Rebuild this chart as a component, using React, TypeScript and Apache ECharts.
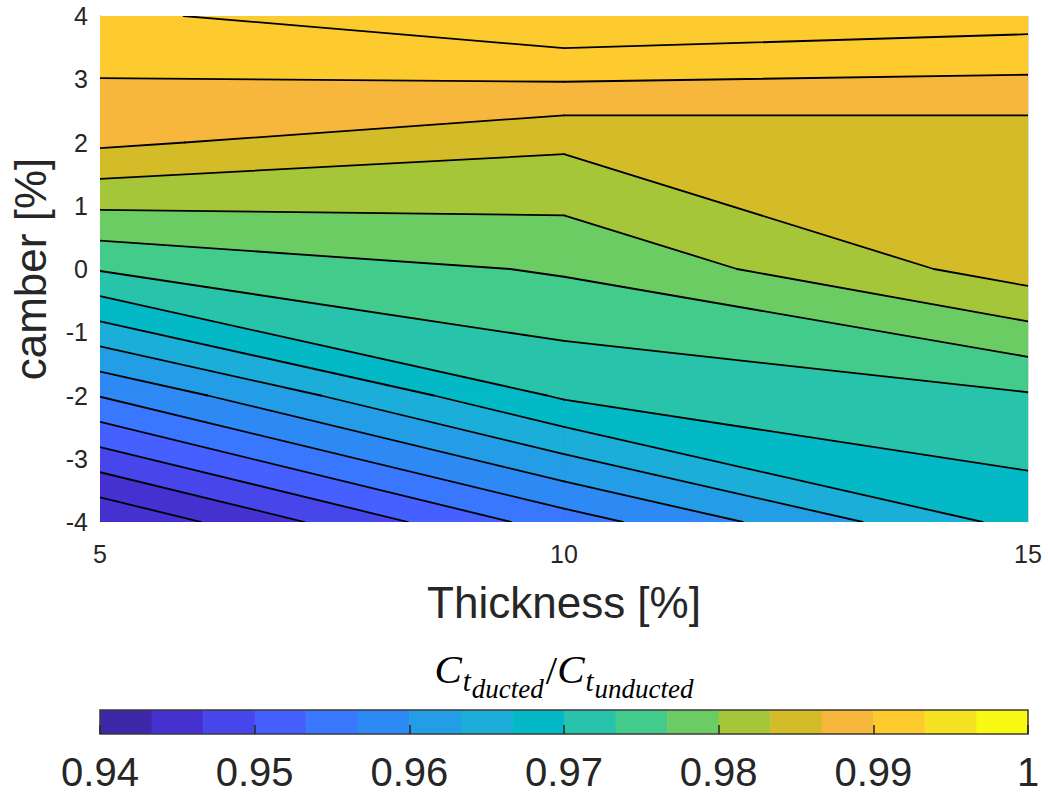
import React, { useEffect, useRef } from "react";
import * as echarts from "echarts";

// Grid of the sweep: airfoil thickness [%] and camber [%]
const thickness = [5, 10, 15];
const camber = [-4, -2, 0, 2, 4];

// Ct(ducted) / Ct(unducted) at each thickness, listed along camber
const ratioT5 = [0.94007, 0.95683, 0.9736, 0.98727, 0.99263];
const ratioT10 = [0.95503, 0.9705, 0.97707, 0.98397, 0.99653];
const ratioT15 = [0.96793, 0.97303, 0.98493, 0.98443, 0.99483];

// Contour levels drawn as black lines
const contourLevels = [
  0.943333, 0.946667, 0.95, 0.953333, 0.956667, 0.96, 0.963333, 0.966667,
  0.97, 0.973333, 0.976667, 0.98, 0.983333, 0.986667, 0.99, 0.993333,
];

// 18-step parula colormap spanning the colour limits
const parula18 = [
  "#3D26A8", "#4431CF", "#4746EB", "#4560FE", "#3877FE", "#2D89F4",
  "#239DE5", "#1AAED9", "#03B9C6", "#27C3AA", "#42CB8B", "#6CCC64",
  "#A6C63A", "#D3BC27", "#F6B73C", "#FECB2F", "#F4E223", "#F9FA14",
];
const colorLimits = [0.94, 1];
const colorbarTicks = [0.94, 0.95, 0.96, 0.97, 0.98, 0.99, 1];

type Pt = [number, number];

const ratioGrid = [ratioT5, ratioT10, ratioT15];

function edgePoint(a: Pt, b: Pt, va: number, vb: number, level: number): Pt {
  const f = (level - va) / (vb - va);
  return [a[0] + f * (b[0] - a[0]), a[1] + f * (b[1] - a[1])];
}

// Marching squares: filled bands and contour segments per grid cell
function buildContours() {
  const bands: { pts: Pt[]; band: number }[] = [];
  const segments: Pt[][] = [];
  const bounds = [-Infinity, ...contourLevels, Infinity];
  for (let i = 0; i < thickness.length - 1; i++) {
    for (let j = 0; j < camber.length - 1; j++) {
      const corners: Pt[] = [
        [thickness[i], camber[j]],
        [thickness[i + 1], camber[j]],
        [thickness[i + 1], camber[j + 1]],
        [thickness[i], camber[j + 1]],
      ];
      const vals = [
        ratioGrid[i][j],
        ratioGrid[i + 1][j],
        ratioGrid[i + 1][j + 1],
        ratioGrid[i][j + 1],
      ];
      for (let b = 0; b < bounds.length - 1; b++) {
        const lo = bounds[b];
        const hi = bounds[b + 1];
        const pts: Pt[] = [];
        for (let e = 0; e < 4; e++) {
          const a = corners[e];
          const c = corners[(e + 1) % 4];
          const va = vals[e];
          const vc = vals[(e + 1) % 4];
          if (va >= lo && va < hi) pts.push(a);
          const hits = [lo, hi]
            .filter((l) => isFinite(l) && (l - va) * (l - vc) < 0)
            .map((l) => ({ f: (l - va) / (vc - va), p: edgePoint(a, c, va, vc, l) }))
            .sort((x, y) => x.f - y.f);
          hits.forEach((h) => pts.push(h.p));
        }
        if (pts.length >= 3) bands.push({ pts, band: b });
      }
      contourLevels.forEach((level) => {
        const hits: Pt[] = [];
        for (let e = 0; e < 4; e++) {
          const va = vals[e];
          const vc = vals[(e + 1) % 4];
          if ((level - va) * (level - vc) < 0) {
            hits.push(edgePoint(corners[e], corners[(e + 1) % 4], va, vc, level));
          }
        }
        if (hits.length >= 2) segments.push([hits[0], hits[1]]);
        if (hits.length === 4) segments.push([hits[2], hits[3]]);
      });
    }
  }
  return { bands, segments };
}

function textWidth(text: string, font: string) {
  const ctx = document.createElement("canvas").getContext("2d");
  if (!ctx) return text.length * 10;
  ctx.font = font;
  return ctx.measureText(text).width;
}

export default function App() {
  const ref = useRef<HTMLDivElement>(null);

  useEffect(() => {
    if (!ref.current) return;
    const chart = echarts.init(ref.current, undefined, { renderer: "svg" });
    const { bands, segments } = buildContours();

    const sans = "Liberation Sans, Arial, Helvetica, sans-serif";
    const serif = "Liberation Serif, Times New Roman, serif";
    const axisColor = "#262626";

    // colorbar label  C_{t_{ducted}} / C_{t_{unducted}}
    const pieces = [
      { text: "C", size: 41, base: 683, italic: true, gap: 1 },
      { text: "t", size: 29, base: 691, italic: true, gap: 1 },
      { text: "ducted", size: 27, base: 698, italic: true, gap: 2 },
      { text: "/", size: 41, base: 684, italic: false, gap: 0 },
      { text: "C", size: 41, base: 683, italic: true, gap: 1 },
      { text: "t", size: 29, base: 691, italic: true, gap: 1 },
      { text: "unducted", size: 27, base: 698, italic: true, gap: 0 },
    ];
    const fontOf = (p: { size: number; italic: boolean }) =>
      `${p.italic ? "italic " : ""}${p.size}px ${serif}`;
    const widths = pieces.map((p) => textWidth(p.text, fontOf(p)) + p.gap);
    const total = widths.reduce((s, w) => s + w, 0);
    let cursor = 564 - total / 2;
    const titleTexts = pieces.map((p, k) => {
      const el = {
        type: "text",
        x: cursor,
        y: p.base - 0.3375 * p.size,
        silent: true,
        style: {
          text: p.text,
          font: fontOf(p),
          fill: "#000",
          align: "left",
          verticalAlign: "middle",
        },
      };
      cursor += widths[k];
      return el;
    });

    const nColors = parula18.length;
    const step = (colorLimits[1] - colorLimits[0]) / nColors;

    chart.setOption({
      animation: false,
      backgroundColor: "#fff",
      grid: [
        { left: 100, top: 16, width: 928, height: 506 },
        { left: 100, top: 710, width: 928, height: 24 },
      ],
      xAxis: [
        {
          gridIndex: 0,
          type: "value",
          min: 5,
          max: 15,
          interval: 5,
          z: 0,
          axisLine: { lineStyle: { color: "#6a6a6a", width: 1 } },
          axisTick: { show: false },
          splitLine: { show: false },
          axisLabel: { fontSize: 25, color: axisColor, fontFamily: sans, margin: 19 },
          name: "Thickness [%]",
          nameLocation: "middle",
          nameGap: 58,
          nameTextStyle: { fontSize: 44, color: axisColor, fontFamily: sans },
        },
        {
          gridIndex: 0,
          type: "value",
          position: "top",
          min: 5,
          max: 15,
          z: 0,
          axisLine: { lineStyle: { color: "#d9d9d9" } },
          axisTick: { show: false },
          axisLabel: { show: false },
          splitLine: { show: false },
        },
        {
          gridIndex: 1,
          type: "value",
          min: colorbarTicks[0],
          max: colorbarTicks[colorbarTicks.length - 1],
          interval: 0.01,
          z: 10,
          axisLine: { show: false },
          axisTick: { inside: true, length: 9, lineStyle: { color: axisColor, width: 1.5 } },
          splitLine: { show: false },
          axisLabel: {
            fontSize: 40,
            color: axisColor,
            fontFamily: sans,
            margin: 18,
            formatter: (v: number) => String(+v.toFixed(2)),
          },
        },
      ],
      yAxis: [
        {
          gridIndex: 0,
          type: "value",
          min: -4,
          max: 4,
          interval: 1,
          z: 0,
          axisLine: { show: true, lineStyle: { color: "#6a6a6a", width: 1 } },
          axisTick: { show: false },
          splitLine: { show: false },
          axisLabel: { fontSize: 25, color: axisColor, fontFamily: sans, margin: 12 },
          name: "camber [%]",
          nameLocation: "middle",
          nameGap: 48,
          nameTextStyle: { fontSize: 44, color: axisColor, fontFamily: sans },
        },
        {
          gridIndex: 0,
          type: "value",
          position: "right",
          min: -4,
          max: 4,
          z: 0,
          axisLine: { show: true, lineStyle: { color: "#d9d9d9" } },
          axisTick: { show: false },
          axisLabel: { show: false },
          splitLine: { show: false },
        },
        { gridIndex: 1, type: "value", min: 0, max: 1, show: false },
      ],
      series: [
        {
          type: "custom",
          xAxisIndex: 0,
          yAxisIndex: 0,
          clip: true,
          silent: true,
          z: 2,
          encode: { x: 0, y: 1 },
          data: bands.map((b, k) => [b.pts[0][0], b.pts[0][1], k]),
          renderItem: (params: any, api: any) => {
            const b = bands[api.value(2)];
            const color = parula18[Math.min(Math.max(b.band, 1), contourLevels.length - 1)];
            return {
              type: "polygon",
              shape: { points: b.pts.map((p) => api.coord(p)) },
              style: { fill: color, stroke: color, lineWidth: 0.7 },
            };
          },
        },
        {
          type: "custom",
          xAxisIndex: 0,
          yAxisIndex: 0,
          clip: true,
          silent: true,
          z: 3,
          encode: { x: 0, y: 1 },
          data: segments.map((s, k) => [s[0][0], s[0][1], k]),
          renderItem: (params: any, api: any) => {
            const s = segments[api.value(2)];
            const p0 = api.coord(s[0]);
            const p1 = api.coord(s[1]);
            return {
              type: "line",
              shape: { x1: p0[0], y1: p0[1], x2: p1[0], y2: p1[1] },
              style: { stroke: "#000", lineWidth: 1.8, lineCap: "round" },
            };
          },
        },
        {
          type: "custom",
          xAxisIndex: 2,
          yAxisIndex: 2,
          silent: true,
          z: 2,
          encode: { x: 0, y: 1 },
          data: parula18.map((c, k) => [colorLimits[0] + k * step, 0, k]),
          renderItem: (params: any, api: any) => {
            const k = api.value(2);
            const lo = colorLimits[0] + k * step;
            const p0 = api.coord([lo, 1]);
            const p1 = api.coord([lo + step, 0]);
            return {
              type: "rect",
              shape: { x: p0[0], y: p0[1], width: p1[0] - p0[0] + 0.5, height: p1[1] - p0[1] },
              style: { fill: parula18[k] },
            };
          },
        },
        {
          type: "custom",
          xAxisIndex: 2,
          yAxisIndex: 2,
          silent: true,
          z: 4,
          encode: { x: 0, y: 1 },
          data: [[colorLimits[0], 0]],
          renderItem: (params: any, api: any) => {
            const p0 = api.coord([colorLimits[0], 1]);
            const p1 = api.coord([colorLimits[1], 0]);
            return {
              type: "rect",
              shape: { x: p0[0], y: p0[1], width: p1[0] - p0[0], height: p1[1] - p0[1] },
              style: { fill: "none", stroke: "#3a3a3a", lineWidth: 1.5 },
            };
          },
        },
      ],
      graphic: titleTexts,
    });

    return () => chart.dispose();
  }, []);

  return (
    <div
      ref={ref}
      style={{ position: "fixed", left: 0, top: 0, width: 1048, height: 794, background: "#fff" }}
    />
  );
}
